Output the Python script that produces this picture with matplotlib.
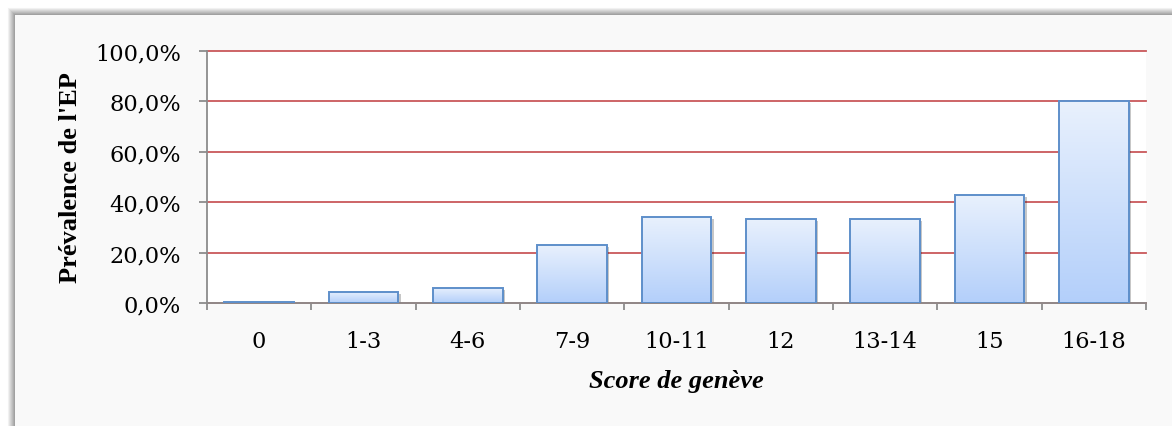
import numpy as np
import matplotlib
matplotlib.use('Agg')
import matplotlib.pyplot as plt
import matplotlib.patheffects as pe
from matplotlib.patches import Rectangle
from matplotlib.colors import LinearSegmentedColormap
from matplotlib.ticker import FuncFormatter

# donnees
categories = ['0', '1-3', '4-6', '7-9', '10-11', '12', '13-14', '15', '16-18']
prevalence = [0.6, 4.6, 6.0, 23.1, 34.1, 33.3, 33.3, 43.0, 80.0]
y_ticks = [0, 20, 40, 60, 80, 100]

plt.rcParams['font.family'] = ['Liberation Serif', 'DejaVu Serif']

W, H = 1172, 427
fig = plt.figure(figsize=(W / 100, H / 100), dpi=100)
fig.patch.set_facecolor('white')

# cadre gris avec ombre (style Excel)
bg = fig.add_axes([0, 0, 1, 1], zorder=-10)
bg.set_xlim(0, W)
bg.set_ylim(H, 0)
bg.axis('off')
for d in range(8, 0, -1):
    g = 0.58 + 0.052 * d
    bg.add_patch(Rectangle((15 - d, 16 - d), W, H, color=(g, g, g), lw=0))
bg.add_patch(Rectangle((15, 16), W, H, color='#F9F9F9', lw=0))

ax = fig.add_axes([207 / W, 1 - 304.3 / H, 939 / W, 252.8 / H])
ax.set_facecolor('white')

x = np.arange(len(categories))
bw = 0.67

# ombre des barres
shadow = ax.bar(x, prevalence, width=bw, color='none', edgecolor='none', zorder=1.5)
for s in shadow:
    s.set_path_effects([pe.SimplePatchShadow(offset=(1.5, -1.5), shadow_rgbFace='k', alpha=0.22)])

# degrade bleu dans chaque barre
cmap = LinearSegmentedColormap.from_list('bleu', ['#B3CFFA', '#E9F1FD'])
grad = np.linspace(0, 1, 256).reshape(-1, 1)
bars = ax.bar(x, prevalence, width=bw, color='none', edgecolor='#5E8FCA', lw=1.4, zorder=3)
for b in bars:
    im = ax.imshow(grad, extent=[b.get_x(), b.get_x() + b.get_width(), 0, b.get_height()],
                   origin='lower', cmap=cmap, aspect='auto', zorder=2)
    im.set_clip_path(b)

ax.set_xlim(-0.5, len(categories) - 0.5)
ax.set_ylim(0, 100)
ax.set_yticks(y_ticks)
ax.yaxis.set_major_formatter(FuncFormatter(lambda v, p: ('%.1f%%' % v).replace('.', ',')))
ax.yaxis.grid(True, color='#C9585A', lw=1.3)
for gl in ax.get_ygridlines():
    gl.set_clip_on(False)
ax.set_axisbelow(True)

ax.set_xticks(x)
ax.set_xticklabels(categories)
ax.set_xticks(np.arange(-0.5, len(categories)), minor=True)
ax.tick_params(axis='x', which='major', length=0, pad=19)
ax.tick_params(axis='x', which='minor', length=5, width=1.3, color='#8C8C8C', direction='out')
ax.tick_params(axis='y', length=5.8, width=1.3, color='#8C8C8C', pad=13)
for lab in ax.get_xticklabels() + ax.get_yticklabels():
    lab.set_fontfamily('DejaVu Serif')
    lab.set_fontsize(16.2)

for side in ['top', 'right']:
    ax.spines[side].set_visible(False)
for side in ['left', 'bottom']:
    ax.spines[side].set_color('#8C8C8C')
    ax.spines[side].set_linewidth(1.3)

ax.set_ylabel("Prévalence de l'EP", fontsize=19, fontweight='bold')
ax.yaxis.set_label_coords(-0.133, 0.5)
ax.set_xlabel('Score de genève', fontsize=19, fontweight='bold', style='italic')
ax.xaxis.set_label_coords(0.5, -0.26)

fig.savefig('out.png', dpi=100)
